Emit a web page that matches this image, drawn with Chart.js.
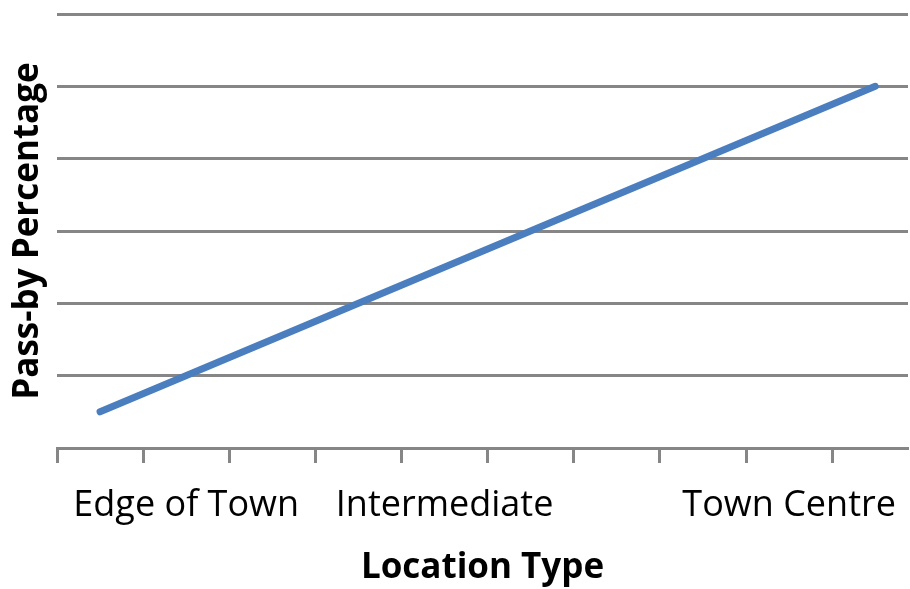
<!DOCTYPE html>
<html>
<head>
<meta charset="utf-8">
<script src="https://cdn.jsdelivr.net/npm/chart.js@4.4.1/dist/chart.umd.min.js"></script>
<style>
  html, body { margin: 0; padding: 0; background: #fff; }
  #wrap { width: 910px; height: 589px; }
</style>
</head>
<body>
<div id="wrap"><canvas id="lineChart" width="910" height="589"></canvas></div>
<script>
// data
var xValues = [0.5, 9.5];
var passBy = [5, 50];
var labelPos = [1.5, 4.5, 8.5];
var labelText = ['Edge of Town', 'Intermediate', 'Town Centre'];

var gridGrey = '#868686';
var fontFamily = '"Open Sans", sans-serif';

var points = [];
for (var i = 0; i < xValues.length; i++) {
    points.push({ x: xValues[i], y: passBy[i] });
}

function labelFor(v) {
    for (var i = 0; i < labelPos.length; i++) {
        if (Math.abs(labelPos[i] - v) < 0.01) return labelText[i];
    }
    return '';
}

var ctx = document.getElementById('lineChart');
var mainChart = new Chart(ctx, {
    type: 'line',
    data: {
        datasets: [{
            label: 'Pass-by Percentage',
            data: points,
            borderColor: '#4a7ebf',
            borderWidth: 7,
            borderCapStyle: 'round',
            pointRadius: 0,
            fill: false,
            tension: 0
        }]
    },
    options: {
        responsive: false,
        animation: false,
        layout: { padding: { top: 14, right: 2, left: 0, bottom: 0 } },
        plugins: { legend: { display: false }, tooltip: { enabled: false } },
        scales: {
            x: {
                type: 'linear',
                min: 0,
                max: 9.88,
                afterFit: function (scale) {
                    scale.height = 141;
                    scale.paddingLeft = 0;
                    scale.paddingRight = 0;
                },
                ticks: {
                    stepSize: 0.5,
                    autoSkip: false,
                    maxRotation: 0,
                    padding: 21,
                    color: '#000',
                    font: { family: fontFamily, size: 36 },
                    callback: function (v) { return labelFor(v); }
                },
                grid: {
                    drawOnChartArea: false,
                    drawTicks: true,
                    tickLength: 15,
                    tickWidth: 3,
                    tickColor: function (c) {
                        var v = c.tick ? c.tick.value : 0;
                        return Math.abs(v - Math.round(v)) < 0.01 ? gridGrey : 'rgba(0,0,0,0)';
                    }
                },
                border: { display: true, color: gridGrey, width: 3 },
                title: {
                    display: true,
                    text: 'Location Type',
                    color: '#000',
                    font: { family: fontFamily, size: 35, weight: 'bold' },
                    padding: { top: 0, bottom: 0 }
                }
            },
            y: {
                min: 0,
                max: 60,
                afterFit: function (scale) { scale.width = 57; },
                ticks: { display: false, stepSize: 10 },
                grid: { color: gridGrey, lineWidth: 3, drawTicks: false },
                border: { display: false },
                title: {
                    display: true,
                    text: 'Pass-by Percentage',
                    color: '#000',
                    font: { family: fontFamily, size: 35, weight: 'bold' },
                    padding: { top: 7, bottom: 0 }
                }
            }
        }
    }
});
</script>
</body>
</html>
